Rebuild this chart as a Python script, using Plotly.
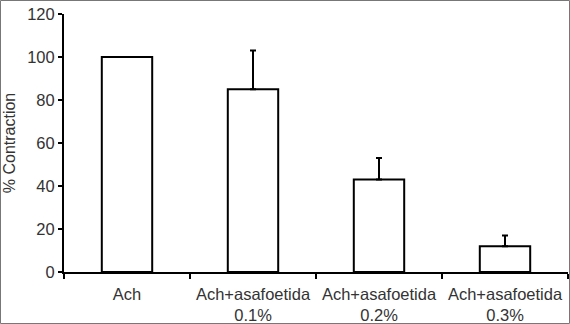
import plotly.graph_objects as go

categories = ["Ach", "Ach+asafoetida<br>0.1%", "Ach+asafoetida<br>0.2%", "Ach+asafoetida<br>0.3%"]
values = [100, 85, 43, 12]
errors_up = [0, 18, 10, 5]
y_ticks = [0, 20, 40, 60, 80, 100, 120]

W, H = 570, 324
ML, MR, MT, MB = 64, 2, 14, 52
pw = W - ML - MR
ph = H - MT - MB

fig = go.Figure()
fig.add_trace(go.Bar(
    x=categories, y=values, width=0.4,
    marker=dict(color="white", line=dict(color="black", width=2)),
    error_y=dict(type="data", array=errors_up, arrayminus=[0]*4, symmetric=False,
                 color="black", thickness=2, width=3),
))

def px_x(p):
    return (p - ML) / pw

def px_y(p):
    return (H - MB - p) / ph

fig.add_shape(type="rect", xref="paper", yref="paper",
              x0=px_x(0.5), x1=px_x(W - 0.5), y0=px_y(0.5), y1=px_y(H - 0.5),
              line=dict(color="#777", width=1), fillcolor="rgba(0,0,0,0)", layer="above")

fig.update_layout(
    width=W, height=H,
    margin=dict(l=ML, r=MR, t=MT, b=MB, autoexpand=False),
    paper_bgcolor="white", plot_bgcolor="white",
    font=dict(family="Liberation Sans, Arial, sans-serif", size=16.5, color="#333"),
    showlegend=False,
    xaxis=dict(type="category", tickson="boundaries", ticks="outside", ticklen=5, tickwidth=2,
               tickcolor="black", showline=True, linecolor="black", linewidth=2,
               showgrid=False, zeroline=False, range=[-0.5, 3.5], automargin=False,
               ticklabelstandoff=6),
    yaxis=dict(range=[0, 120], tickvals=y_ticks, ticks="outside", ticklen=4, tickwidth=2,
               tickcolor="black", showline=True, linecolor="black", linewidth=2,
               showgrid=False, zeroline=False, automargin=False,
               title=dict(text="% Contraction", standoff=8, font=dict(size=16))),
)

fig.write_html("out.html", config={"displayModeBar": False},
               post_script="document.body.style.margin='0';document.body.style.overflow='hidden';")
